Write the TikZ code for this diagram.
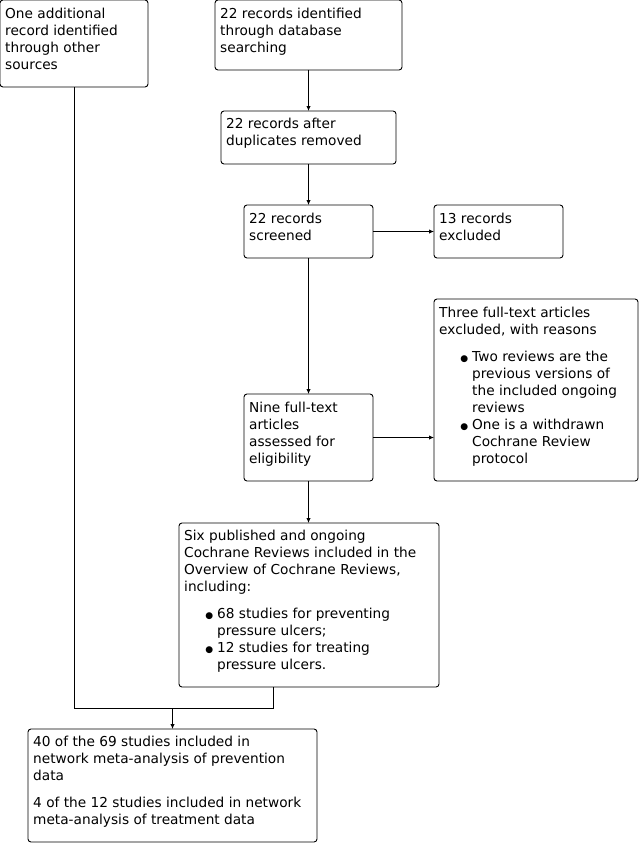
\documentclass[tikz,border=0pt]{standalone}
\usepackage{fontspec}
\setmainfont{DejaVu Sans}
\usetikzlibrary{arrows.meta}
\newcommand\bulletitem{\hspace*{33pt}\llap{\raisebox{0.5pt}{\fontsize{9}{9}\selectfont ●}\hspace{4pt}}}
\newcommand\bulletcont{\hspace*{33pt}}
\begin{document}
\begin{tikzpicture}[x=1pt,y=-1pt,
  box/.style={draw, line width=0.9pt, rounded corners=3pt, inner sep=0pt, outer sep=0pt, anchor=north west},
  txt/.style={anchor=north west, inner sep=0pt, align=left, font=\fontsize{13.7}{17}\selectfont},
  conn/.style={line width=0.9pt},
  arr/.style={conn, -{Latex[length=5pt,width=4.5pt]}}]
\useasboundingbox (0,0) rectangle (640,843);
% boxes
\node[box, minimum width=148pt, minimum height=87pt] (A) at (0,0) {};
\node[box, minimum width=187pt, minimum height=70pt] (B) at (215,0) {};
\node[box, minimum width=175pt, minimum height=53pt] (C) at (221,111) {};
\node[box, minimum width=129pt, minimum height=53pt] (D) at (244,205) {};
\node[box, minimum width=129pt, minimum height=53pt] (E) at (434,205) {};
\node[box, minimum width=204pt, minimum height=182pt] (F) at (434,299) {};
\node[box, minimum width=129pt, minimum height=87pt] (G) at (244,394) {};
\node[box, minimum width=260pt, minimum height=164pt] (H) at (179,523) {};
\node[box, minimum width=289pt, minimum height=113pt] (I) at (28,729) {};
% texts
\node[txt] (At) at ([shift={(5,8)}]A.north west) {One additional\\record identified\\through other\\sources};
\node[txt] (Bt) at ([shift={(5,8)}]B.north west) {22 records identified\\through database\\searching};
\node[txt] (Ct) at ([shift={(5,7)}]C.north west) {22 records after\\duplicates removed};
\node[txt] (Dt) at ([shift={(5,8)}]D.north west) {22 records\\screened};
\node[txt] (Et) at ([shift={(5,8)}]E.north west) {13 records\\excluded};
\node[txt] (Ft) at ([shift={(5,8)}]F.north west) {Three full-text articles\\excluded, with reasons\\[10pt]
\bulletitem Two reviews are the\\
\bulletcont previous versions of\\
\bulletcont the included ongoing\\
\bulletcont reviews\\
\bulletitem One is a withdrawn\\
\bulletcont Cochrane Review\\
\bulletcont protocol};
\node[txt] (Gt) at ([shift={(5,8)}]G.north west) {Nine full-text\\articles\\assessed for\\eligibility};
\node[txt] (Ht) at ([shift={(5,7)}]H.north west) {Six published and ongoing\\Cochrane Reviews included in the\\Overview of Cochrane Reviews,\\including:\\[10pt]
\bulletitem 68 studies for preventing\\
\bulletcont pressure ulcers;\\
\bulletitem 12 studies for treating\\
\bulletcont pressure ulcers.};
\node[txt] (It) at ([shift={(5,7)}]I.north west) {40 of the 69 studies included in\\network meta-analysis of prevention\\data\\[10pt]
4 of the 12 studies included in network\\meta-analysis of treatment data};
% connectors
\draw[arr] (B.south) -- (B.south |- C.north);
\draw[arr] (C.south) -- (C.south |- D.north);
\draw[arr] (D.east) -- (D.east -| E.west);
\draw[arr] (D.south) -- (D.south |- G.north);
\draw[arr] (G.east) -- (G.east -| F.west);
\draw[arr] (G.south) -- (G.south |- H.north);
\coordinate (hb) at (273,687);
\coordinate (jn) at (173,708);
\draw[conn] (A.south) |- (hb |- jn) -- (hb);
\draw[arr] (I.north |- jn) -- (I.north);
\end{tikzpicture}
\end{document}
